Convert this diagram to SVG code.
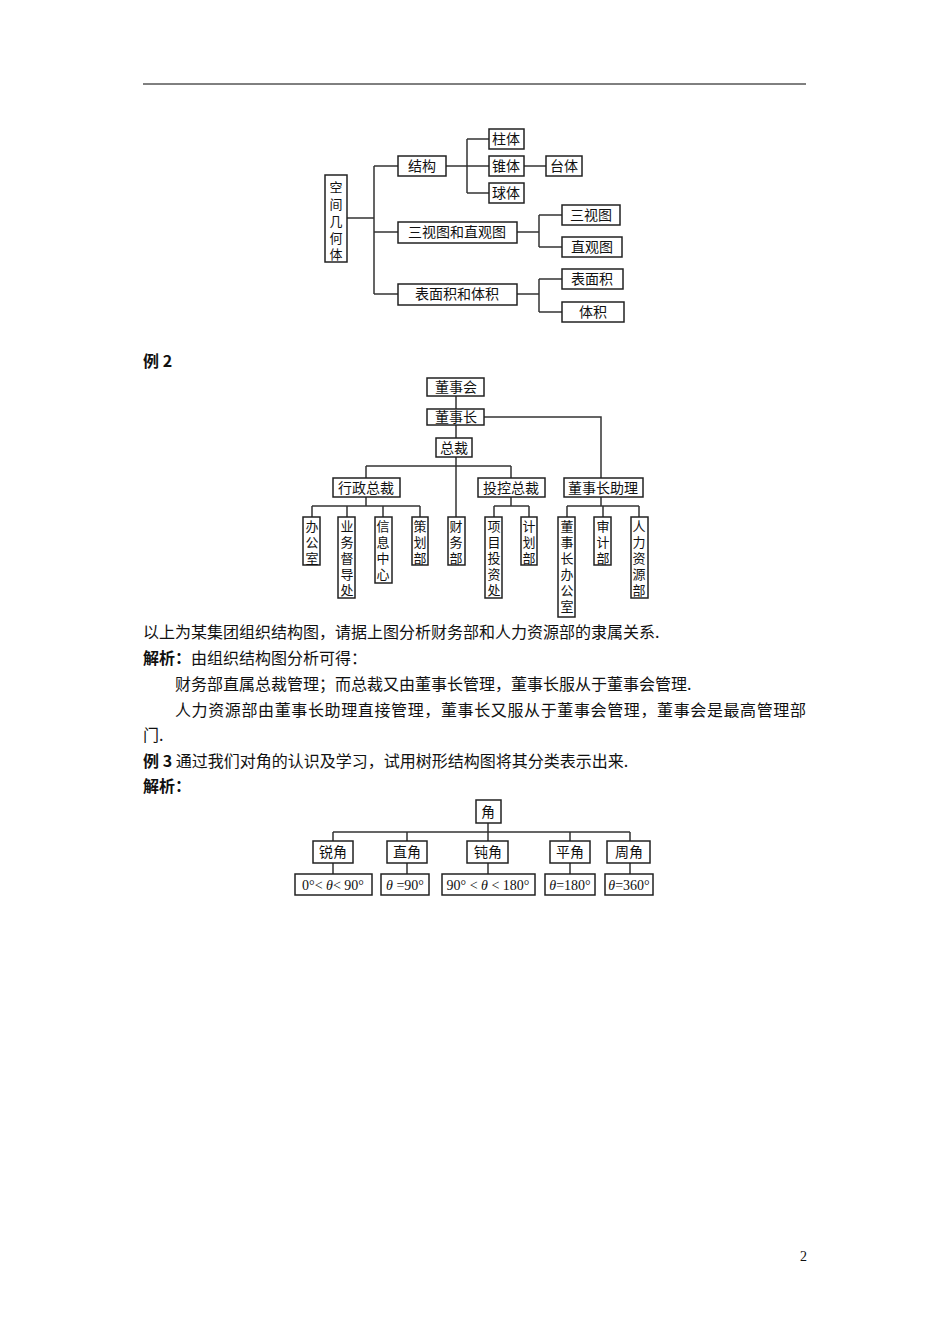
<svg xmlns="http://www.w3.org/2000/svg" width="950" height="1344" viewBox="0 0 950 1344">
<style>
.b{fill:#fff;stroke:#222;stroke-width:1.5}
.l{fill:none;stroke:#333;stroke-width:1.5}
.t{font-family:"Noto Sans CJK SC","Liberation Serif",serif;font-size:14px;fill:#111;text-anchor:middle}
.v{font-family:"Noto Sans CJK SC","Liberation Serif",serif;font-size:13px;fill:#111;text-anchor:middle}
.p{font-family:"Noto Sans CJK SC",serif;font-size:16px;fill:#111}
.m{font-family:"Liberation Serif",serif;font-size:14px;fill:#111;text-anchor:middle}
</style>
<rect width="950" height="1344" fill="#fff"/>
<line x1="143" y1="84" x2="806" y2="84" stroke="#000" stroke-width="1"/>
<g id="connectors">
<path class="l" d="M347 218H374M374 166V294M374 166H398M374 232H398M374 294H398M446 166H467M467 139V193M467 139H489M467 166H489M467 193H489M524 166H546M517 232H539M539 215V247M539 215H562M539 247H562M517 294H539M539 279V312M539 279H562M539 312H562"/>
<path class="l" d="M456 396V409M456 425V438M484 417H601V478M456 457V517M366 466H511M366 466V478M511 466V478M366 497V506M312 506H420M312 506V517M347 506V517M383 506V517M420 506V517M511 497V506M494 506H529M494 506V517M529 506V517M601 497V506M567 506H639M567 506V517M603 506V517M639 506V517"/>
<path class="l" d="M488 823V832M333 832H630M333 832V841M407 832V841M488 832V841M570 832V841M630 832V841M333 863V874M407 863V874M488 863V874M570 863V874M630 863V874"/>
</g>
<g id="n1"><rect class="b" x="325" y="175" width="22" height="87"/><text class="v"><tspan x="336" y="192">空</tspan><tspan x="336" y="209">间</tspan><tspan x="336" y="226">几</tspan><tspan x="336" y="243">何</tspan><tspan x="336" y="259">体</tspan></text></g>
<g id="n2"><rect class="b" x="398" y="156" width="48" height="20"/><text class="t" x="422" y="171">结构</text></g>
<g id="n3"><rect class="b" x="398" y="222" width="119" height="21"/><text class="t" x="457" y="237">三视图和直观图</text></g>
<g id="n4"><rect class="b" x="398" y="284" width="119" height="21"/><text class="t" x="457" y="299">表面积和体积</text></g>
<g id="n5"><rect class="b" x="489" y="129" width="35" height="20"/><text class="t" x="506" y="144">柱体</text></g>
<g id="n6"><rect class="b" x="489" y="156" width="35" height="20"/><text class="t" x="506" y="171">锥体</text></g>
<g id="n7"><rect class="b" x="489" y="183" width="35" height="20"/><text class="t" x="506" y="198">球体</text></g>
<g id="n8"><rect class="b" x="546" y="156" width="36" height="20"/><text class="t" x="564" y="171">台体</text></g>
<g id="n9"><rect class="b" x="562" y="205" width="58" height="20"/><text class="t" x="591" y="220">三视图</text></g>
<g id="n10"><rect class="b" x="562" y="237" width="60" height="20"/><text class="t" x="592" y="252">直观图</text></g>
<g id="n11"><rect class="b" x="562" y="269" width="61" height="20"/><text class="t" x="592" y="284">表面积</text></g>
<g id="n12"><rect class="b" x="562" y="302" width="62" height="20"/><text class="t" x="593" y="317">体积</text></g>
<text class="p" x="143" y="367" font-weight="bold">例 2</text>
<g id="o1"><rect class="b" x="427" y="378" width="57" height="18"/><text class="t" x="456" y="392">董事会</text></g>
<g id="o2"><rect class="b" x="427" y="409" width="57" height="16"/><text class="t" x="456" y="422">董事长</text></g>
<g id="o3"><rect class="b" x="436" y="438" width="36" height="19"/><text class="t" x="454" y="453">总裁</text></g>
<g id="o4"><rect class="b" x="333" y="478" width="67" height="19"/><text class="t" x="366" y="493">行政总裁</text></g>
<g id="o5"><rect class="b" x="478" y="478" width="67" height="19"/><text class="t" x="511" y="493">投控总裁</text></g>
<g id="o6"><rect class="b" x="564" y="478" width="79" height="19"/><text class="t" x="603" y="493">董事长助理</text></g>
<g id="o7"><rect class="b" x="303" y="517" width="17" height="48"/><text class="v"><tspan x="312" y="531">办</tspan><tspan x="312" y="547">公</tspan><tspan x="312" y="563">室</tspan></text></g>
<g id="o8"><rect class="b" x="338" y="517" width="17" height="81"/><text class="v"><tspan x="347" y="531">业</tspan><tspan x="347" y="547">务</tspan><tspan x="347" y="563">督</tspan><tspan x="347" y="579">导</tspan><tspan x="347" y="595">处</tspan></text></g>
<g id="o9"><rect class="b" x="375" y="517" width="17" height="66"/><text class="v"><tspan x="383" y="531">信</tspan><tspan x="383" y="547">息</tspan><tspan x="383" y="563">中</tspan><tspan x="383" y="579">心</tspan></text></g>
<g id="o10"><rect class="b" x="412" y="517" width="16" height="48"/><text class="v"><tspan x="420" y="531">策</tspan><tspan x="420" y="547">划</tspan><tspan x="420" y="563">部</tspan></text></g>
<g id="o11"><rect class="b" x="448" y="517" width="17" height="48"/><text class="v"><tspan x="456" y="531">财</tspan><tspan x="456" y="547">务</tspan><tspan x="456" y="563">部</tspan></text></g>
<g id="o12"><rect class="b" x="485" y="517" width="17" height="81"/><text class="v"><tspan x="494" y="531">项</tspan><tspan x="494" y="547">目</tspan><tspan x="494" y="563">投</tspan><tspan x="494" y="579">资</tspan><tspan x="494" y="595">处</tspan></text></g>
<g id="o13"><rect class="b" x="521" y="517" width="16" height="48"/><text class="v"><tspan x="529" y="531">计</tspan><tspan x="529" y="547">划</tspan><tspan x="529" y="563">部</tspan></text></g>
<g id="o14"><rect class="b" x="558" y="517" width="17" height="100"/><text class="v"><tspan x="567" y="531">董</tspan><tspan x="567" y="547">事</tspan><tspan x="567" y="563">长</tspan><tspan x="567" y="579">办</tspan><tspan x="567" y="595">公</tspan><tspan x="567" y="611">室</tspan></text></g>
<g id="o15"><rect class="b" x="594" y="517" width="17" height="48"/><text class="v"><tspan x="603" y="531">审</tspan><tspan x="603" y="547">计</tspan><tspan x="603" y="563">部</tspan></text></g>
<g id="o16"><rect class="b" x="631" y="517" width="17" height="81"/><text class="v"><tspan x="639" y="531">人</tspan><tspan x="639" y="547">力</tspan><tspan x="639" y="563">资</tspan><tspan x="639" y="579">源</tspan><tspan x="639" y="595">部</tspan></text></g>
<text class="p" x="143" y="638">以上为某集团组织结构图，请据上图分析财务部和人力资源部的隶属关系.</text>
<text class="p" x="143" y="664"><tspan font-weight="bold">解析：</tspan>由组织结构图分析可得：</text>
<text class="p" x="175" y="690">财务部直属总裁管理；而总裁又由董事长管理，董事长服从于董事会管理.</text>
<text class="p" x="175" y="716" textLength="631">人力资源部由董事长助理直接管理，董事长又服从于董事会管理，董事会是最高管理部</text>
<text class="p" x="143" y="741">门.</text>
<text class="p" x="143" y="767"><tspan font-weight="bold">例 3</tspan> 通过我们对角的认识及学习，试用树形结构图将其分类表示出来.</text>
<text class="p" x="143" y="792" font-weight="bold">解析：</text>
<g id="a0"><rect class="b" x="476" y="800" width="25" height="23"/><text class="t" x="488" y="817">角</text></g>
<g id="a1"><rect class="b" x="313" y="841" width="40" height="22"/><text class="t" x="333" y="857">锐角</text></g>
<g id="a2"><rect class="b" x="387" y="841" width="40" height="22"/><text class="t" x="407" y="857">直角</text></g>
<g id="a3"><rect class="b" x="467" y="841" width="41" height="22"/><text class="t" x="488" y="857">钝角</text></g>
<g id="a4"><rect class="b" x="550" y="841" width="40" height="22"/><text class="t" x="570" y="857">平角</text></g>
<g id="a5"><rect class="b" x="607" y="841" width="43" height="22"/><text class="t" x="629" y="857">周角</text></g>
<g id="v1"><rect class="b" x="295" y="874" width="77" height="21"/><text class="m" x="333" y="890">0°&lt; <tspan font-style="italic">θ</tspan>&lt; 90°</text></g>
<g id="v2"><rect class="b" x="381" y="874" width="48" height="21"/><text class="m" x="405" y="890"><tspan font-style="italic">θ</tspan> =90°</text></g>
<g id="v3"><rect class="b" x="442" y="874" width="93" height="21"/><text class="m" x="488" y="890">90° &lt; <tspan font-style="italic">θ</tspan> &lt; 180°</text></g>
<g id="v4"><rect class="b" x="545" y="874" width="50" height="21"/><text class="m" x="570" y="890"><tspan font-style="italic">θ</tspan>=180°</text></g>
<g id="v5"><rect class="b" x="605" y="874" width="48" height="21"/><text class="m" x="629" y="890"><tspan font-style="italic">θ</tspan>=360°</text></g>
<text x="800" y="1261" font-family="Liberation Serif,serif" font-size="14" fill="#111">2</text>
</svg>
